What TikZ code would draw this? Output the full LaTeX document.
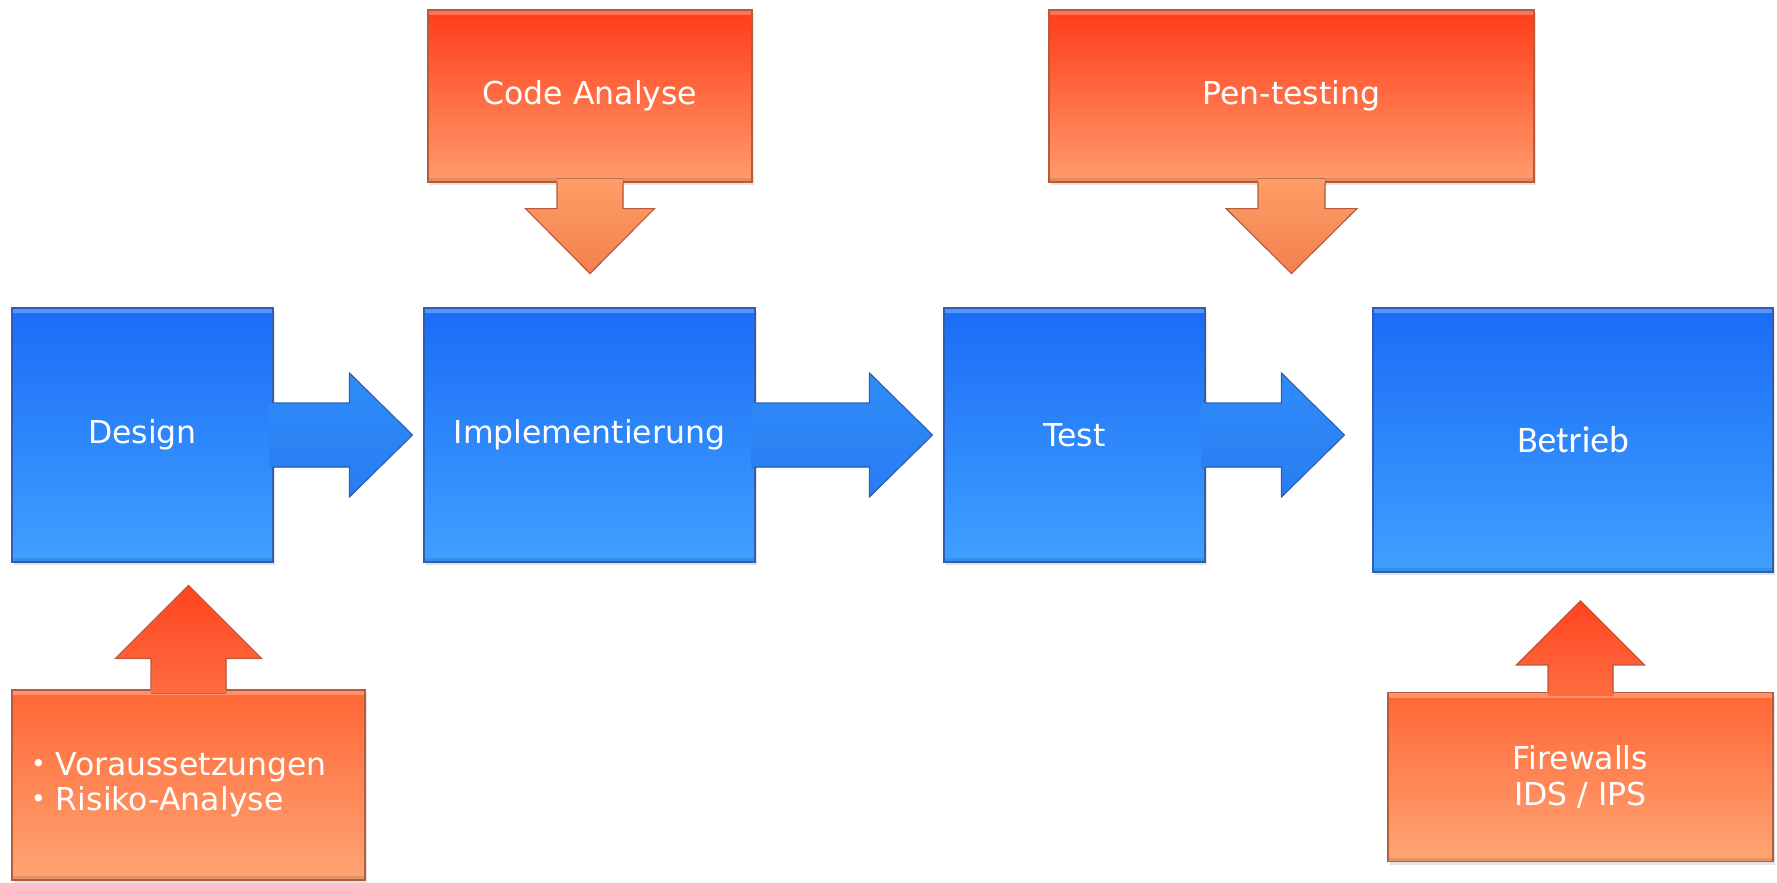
\documentclass[tikz,border=0pt]{standalone}
\usepackage{fontspec}
\setmainfont{DejaVu Sans}
\newfontfamily\carlito{Carlito}
\usetikzlibrary{calc,shadows}
\definecolor{bluetop}{HTML}{1A6CF6}
\definecolor{bluebot}{HTML}{40A0FF}
\definecolor{blueedge}{HTML}{2E5FB5}
\definecolor{arrtop}{HTML}{2E8CFA}
\definecolor{arrbot}{HTML}{2A7CF0}
\definecolor{ortop}{HTML}{FF3C1A}
\definecolor{orbot}{HTML}{FF9C6C}
\definecolor{oltop}{HTML}{FF6636}
\definecolor{olbot}{HTML}{FFA574}
\definecolor{darrtop}{HTML}{FF9E68}
\definecolor{darrbot}{HTML}{F2804E}
\definecolor{uarrtop}{HTML}{FF4420}
\definecolor{uarrbot}{HTML}{FF6C40}
\definecolor{oredge}{HTML}{B85A3C}
\newcommand\smbullet{\raisebox{0.18ex}{\fontsize{25}{25}\selectfont\textbullet}}
\tikzset{
  basebox/.style={rectangle, inner sep=0pt, line width=1.1pt, text=white,
    font=\fontsize{31.5}{37}\selectfont,
    drop shadow={opacity=0.22, shadow xshift=2pt, shadow yshift=-3pt},
    path picture={
      \draw[white, opacity=0.28, line width=10pt]
        (path picture bounding box.north west) -- (path picture bounding box.north east);
      \draw[black, opacity=0.10, line width=8pt]
        (path picture bounding box.south west) -- (path picture bounding box.south east);
    }},
  bluebox/.style={basebox, draw=blueedge, top color=bluetop, bottom color=bluebot},
  topbox/.style={basebox, draw=oredge, top color=ortop, bottom color=orbot},
  lowbox/.style={basebox, draw=oredge, top color=oltop, bottom color=olbot},
  bluearrowfill/.style={top color=arrtop, bottom color=arrbot},
  downarrowfill/.style={top color=darrtop, bottom color=darrbot},
  uparrowfill/.style={top color=uarrtop, bottom color=uarrbot},
  arrowedge/.style={line width=1.1pt, line join=miter}
}
% horizontal block arrow: #1 source node, #2 target node, #3 gap before target
\newcommand\hblockarrow[3]{%
  \coordinate (hs) at (#1.east);
  \coordinate (ht) at ($(#2.west |- #1.east)+(-#3,0)$);
  \fill[bluearrowfill] ($(hs)+(-4,-32)$) -- ($(ht)+(-63,-32)$) -- ($(ht)+(-63,-62)$)
    -- (ht) -- ($(ht)+(-63,62)$) -- ($(ht)+(-63,32)$) -- ($(hs)+(-4,32)$) -- cycle;
  \draw[arrowedge, draw=blueedge] ($(hs)+(0,-32)$) -- ($(ht)+(-63,-32)$) -- ($(ht)+(-63,-62)$)
    -- (ht) -- ($(ht)+(-63,62)$) -- ($(ht)+(-63,32)$) -- ($(hs)+(0,32)$);
}
% vertical block arrow: #1 start anchor, #2 sign (1 down, -1 up), #3 shaft half width,
% #4 head half width, #5 shaft length, #6 head length, #7 fill style
\newcommand\vblockarrow[7]{%
  \coordinate (vs) at (#1);
  \fill[#7] ($(vs)+(-#3,-#2*4)$) -- ($(vs)+(-#3,#2*#5)$) -- ($(vs)+(-#4,#2*#5)$)
    -- ($(vs)+(0,#2*#5+#2*#6)$) -- ($(vs)+(#4,#2*#5)$) -- ($(vs)+(#3,#2*#5)$)
    -- ($(vs)+(#3,-#2*4)$) -- cycle;
  \draw[arrowedge, draw=oredge] ($(vs)+(-#3,0)$) -- ($(vs)+(-#3,#2*#5)$) -- ($(vs)+(-#4,#2*#5)$)
    -- ($(vs)+(0,#2*#5+#2*#6)$) -- ($(vs)+(#4,#2*#5)$) -- ($(vs)+(#3,#2*#5)$) -- ($(vs)+(#3,0)$);
}
\begin{document}
\begin{tikzpicture}[x=1pt, y=-1pt]
\useasboundingbox (0,0) rectangle (1777,883);
% main process boxes
\node[bluebox, minimum width=261pt, minimum height=254pt] (design) at (142.5,435) {Design};
\node[bluebox, minimum width=331pt, minimum height=254pt] (impl) at (589.5,435) {Implementierung};
\node[bluebox, minimum width=261pt, minimum height=254pt] (test) at (1074.5,435) {Test};
\node[bluebox, minimum width=400pt, minimum height=264pt, font=\carlito\fontsize{37.5}{44}\selectfont] (betrieb) at (1573,440) {Betrieb};
% security activity boxes
\node[topbox, minimum width=324pt, minimum height=172pt] (code) at (590,96) {Code Analyse};
\node[topbox, minimum width=485pt, minimum height=172pt] (pen) at (1291.5,96) {Pen-testing};
\node[lowbox, minimum width=353pt, minimum height=190pt] (vor) at (188.5,785) {};
\node[lowbox, minimum width=385pt, minimum height=169pt, align=center,
      font=\fontsize{31.5}{36}\selectfont] (fw) at (1580.5,777) {Firewalls\\IDS / IPS};
\node[anchor=west, text=white, align=left, inner sep=0pt,
      font=\fontsize{31.5}{35}\selectfont] (vortext) at (31,785)
      {\smbullet\ Voraussetzungen\\\smbullet\ Risiko-Analyse};
% flow arrows
\hblockarrow{design}{impl}{11}
\hblockarrow{impl}{test}{11}
\hblockarrow{test}{betrieb}{28}
% activity arrows
\vblockarrow{code.south}{1}{33}{64.5}{26}{65}{downarrowfill}
\vblockarrow{pen.south}{1}{33.5}{65.5}{26}{65}{downarrowfill}
\vblockarrow{vor.north}{-1}{37.5}{73}{31}{73}{uparrowfill}
\vblockarrow{fw.north}{-1}{32.5}{64}{27}{64}{uparrowfill}
\end{tikzpicture}
\end{document}
